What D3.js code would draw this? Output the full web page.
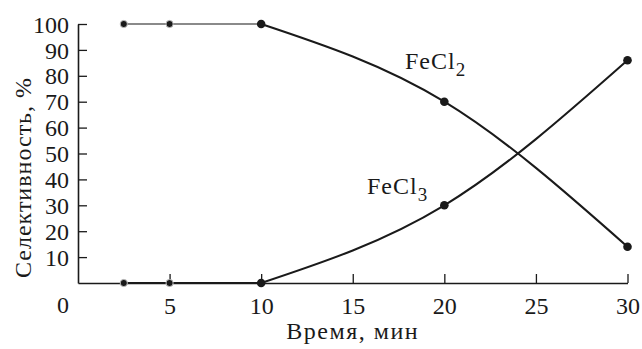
<!DOCTYPE html>
<html>
<head>
<meta charset="utf-8">
<script src="https://cdn.jsdelivr.net/npm/d3@7"></script>
</head>
<body style="margin:0;background:#fff">
<svg id="chart" width="642" height="349"></svg>
<script>
// Time points, min
const timePlateau = [2.5, 5, 10];
const timeCurve = [10, 20, 30];
// Selectivity, %
const fecl2Plateau = [100, 100, 100];
const fecl2Curve = [100, 70, 14];
const fecl3Plateau = [0, 0, 0];
const fecl3Curve = [0, 30, 86];
const xTicks = [5, 10, 15, 20, 25, 30];
const yTicks = [10, 20, 30, 40, 50, 60, 70, 80, 90, 100];

const FONT = "Liberation Serif";
const ink = "#1a1a1a";

const svg = d3.select("#chart");
svg.append("rect").attr("width", 642).attr("height", 349).attr("fill", "#fff");

const x = d3.scaleLinear().domain([0, 30]).range([78, 627.5]);
const y = d3.scaleLinear().domain([0, 100]).range([283, 24]);

// Axes: ticks point into the plot
const xAxis = svg.append("g").attr("transform", `translate(0,${y(0)})`)
  .call(d3.axisBottom(x).tickValues(xTicks).tickSizeInner(-9).tickSizeOuter(0).tickPadding(14));
const yAxis = svg.append("g").attr("transform", `translate(${x(0)},0)`)
  .call(d3.axisLeft(y).tickValues(yTicks).tickSizeInner(-9).tickSizeOuter(0).tickPadding(9));
[xAxis, yAxis].forEach(g => {
  g.attr("font-family", FONT).attr("font-size", 24);
  g.select(".domain").attr("stroke", ink).attr("stroke-width", 1.6);
  g.selectAll(".tick line").attr("stroke", ink).attr("stroke-width", 1.3);
  g.selectAll(".tick text").attr("fill", ink).attr("font-family", FONT).attr("font-size", 24)
    .style("font-family", FONT);
});
xAxis.selectAll(".tick text").attr("dy", "0.71em");
yAxis.selectAll(".tick text").attr("dy", "0.34em");

function label(px, py, str, anchor) {
  return svg.append("text").attr("x", px).attr("y", py).attr("text-anchor", anchor || "start")
    .attr("font-family", FONT).style("font-family", FONT)
    .attr("font-size", 24).attr("fill", ink).text(str);
}

// Origin label
label(63, y(0) + 30, "0", "middle");

// Axis titles
label((x(0) + x(30)) / 2, 339, "Время, мин", "middle").attr("letter-spacing", 1.5);
label(0, 0, "Селективность, %", "middle").attr("letter-spacing", 1)
  .attr("transform", `translate(31,${(y(0) + y(100)) / 2 + 24}) rotate(-90)`);

const flat = d3.line().x(d => x(d[0])).y(d => y(d[1]));
const smooth = d3.line().x(d => x(d[0])).y(d => y(d[1])).curve(d3.curveNatural);

// Plateau segments
svg.append("path").datum(d3.zip(timePlateau, fecl2Plateau)).attr("d", flat)
  .attr("fill", "none").attr("stroke", "#8a8a8a").attr("stroke-width", 2);
svg.append("path").datum(d3.zip(timePlateau, fecl3Plateau)).attr("d", flat)
  .attr("fill", "none").attr("stroke", ink).attr("stroke-width", 1.8);

// Smooth curves
[fecl2Curve, fecl3Curve].forEach(vals => {
  svg.append("path").datum(d3.zip(timeCurve, vals)).attr("d", smooth)
    .attr("fill", "none").attr("stroke", ink).attr("stroke-width", 2);
});

// Markers
const pts = [
  ...d3.zip(timePlateau, fecl2Plateau),
  ...d3.zip(timePlateau, fecl3Plateau),
  ...d3.zip(timeCurve.slice(1), fecl2Curve.slice(1)),
  ...d3.zip(timeCurve.slice(1), fecl3Curve.slice(1))
];
svg.selectAll("circle.pt").data(pts).join("circle").attr("class", "pt")
  .attr("cx", d => x(d[0])).attr("cy", d => y(d[1]))
  .attr("r", d => d[0] < 10 ? 3.6 : 4.3)
  .attr("fill", ink)
  .attr("stroke", d => d[0] < 10 ? "#bbb" : "none").attr("stroke-width", 1);

// Series labels
function seriesLabel(px, py, sub) {
  const t = label(px, py, "").attr("letter-spacing", 1);
  t.append("tspan").text("FeCl");
  t.append("tspan").attr("dy", 7).attr("font-size", 19).text(sub);
}
seriesLabel(405, 69, "2");
seriesLabel(367, 194, "3");
</script>
</body>
</html>
